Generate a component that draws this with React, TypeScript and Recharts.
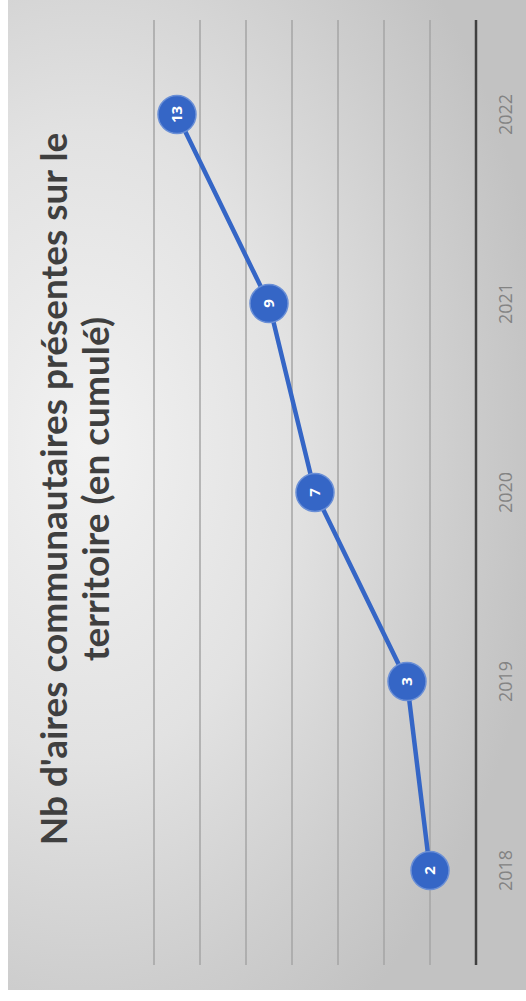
import { LineChart, Line, XAxis, YAxis, CartesianGrid, LabelList } from "recharts";

// The source picture is a landscape chart turned a quarter turn counter-clockwise,
// so the chart is drawn landscape (1001 x 526) and rotated into the portrait page.
const years = ["2018", "2019", "2020", "2021", "2022"];
const totals = [2, 3, 7, 9, 13];
const valueTicks = [0, 2, 4, 6, 8, 10, 12, 14];
const titleLines = [
  "Nb d'aires communautaires présentes sur le",
  "territoire (en cumulé)",
];

const data = years.map((year, i) => ({ year, total: totals[i] }));

const W = 1001;
const H = 526;
const BLUE = "#3566c6";

export default function App() {
  return (
    <div style={{ position: "absolute", left: 0, top: 0, width: H, height: W, background: "#fff", overflow: "hidden" }}>
      <div
        style={{
          position: "absolute",
          left: 0,
          top: 0,
          width: W,
          height: H,
          transformOrigin: "0 0",
          transform: `translateY(${W}px) rotate(-90deg)`,
        }}
      >
        {/* grey panel */}
        <div
          style={{
            position: "absolute",
            left: 11,
            top: 8,
            width: W - 11,
            height: H - 8,
            background:
              "radial-gradient(ellipse 70% 90% at 55% 15%, #f2f2f2 0%, #e2e2e2 45%, #cdcdcd 80%, #c2c2c2 100%)",
          }}
        />
        <svg width={W} height={H} style={{ position: "absolute", left: 0, top: 0 }}>
          {titleLines.map((t, i) => (
            <text
              key={i}
              x={512}
              y={67 + i * 42}
              textAnchor="middle"
              fontFamily="Lato, 'Open Sans', sans-serif"
              fontWeight={700}
              fontSize={37}
              fill="#3f3f3f"
            >
              {t}
            </text>
          ))}
        </svg>
        <div style={{ position: "absolute", left: 0, top: 0 }}>
          <LineChart
            width={W}
            height={H}
            data={data}
            margin={{ top: 154, right: 20, bottom: 20, left: 36 }}
          >
            <CartesianGrid horizontal vertical={false} stroke="#a4a4a4" strokeWidth={1.5} />
            <XAxis
              dataKey="year"
              padding={{ left: 94.5, right: 94.5 }}
              tickLine={false}
              axisLine={{ stroke: "#404040", strokeWidth: 2.5 }}
              tickMargin={17}
              tick={{ fontSize: 18, fill: "#838383", fontFamily: "'Open Sans', sans-serif" }}
              height={30}
            />
            <YAxis hide domain={[0, 14]} ticks={valueTicks} />
            <Line
              type="linear"
              dataKey="total"
              stroke={BLUE}
              strokeWidth={4.5}
              dot={{ r: 19, fill: BLUE, stroke: "#6a8fd6", strokeWidth: 1.5 }}
              isAnimationActive={false}
            >
              <LabelList
                dataKey="total"
                position="center"
                fill="#ffffff"
                fontSize={15}
                fontWeight={700}
                fontFamily="'Open Sans', sans-serif"
              />
            </Line>
          </LineChart>
        </div>
      </div>
    </div>
  );
}
